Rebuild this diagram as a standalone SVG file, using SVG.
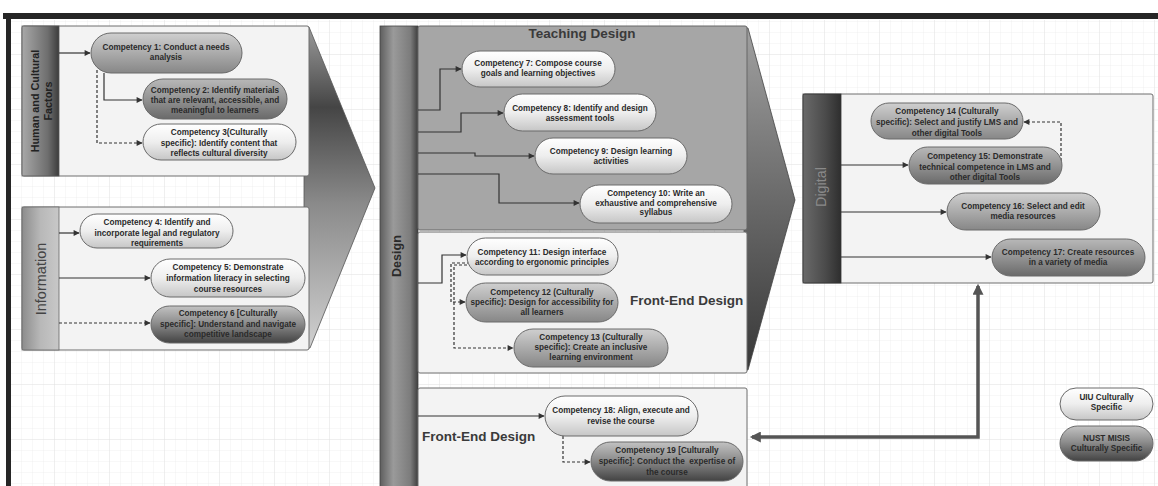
<svg xmlns="http://www.w3.org/2000/svg" width="1158" height="486" viewBox="0 0 1158 486">
<defs>
<pattern id="gridMinor" width="11" height="11" patternUnits="userSpaceOnUse">
<path d="M11 0 V11 M0 11 H11" fill="none" stroke="#ececec" stroke-width="0.7"/>
</pattern>
<pattern id="gridMajor" width="55" height="55" patternUnits="userSpaceOnUse">
<rect width="55" height="55" fill="url(#gridMinor)"/>
<path d="M55 0 V55 M0 55 H55" fill="none" stroke="#e0e0e0" stroke-width="0.8"/>
</pattern>
<linearGradient id="gLight" x1="0" y1="0" x2="0" y2="1"><stop offset="0" stop-color="#ffffff"/><stop offset="0.5" stop-color="#eeeeee"/><stop offset="1" stop-color="#c6c6c6"/></linearGradient>
<linearGradient id="gMid" x1="0" y1="0" x2="0" y2="1"><stop offset="0" stop-color="#cfcfcf"/><stop offset="0.5" stop-color="#ababab"/><stop offset="1" stop-color="#878787"/></linearGradient>
<linearGradient id="gMDark" x1="0" y1="0" x2="0" y2="1"><stop offset="0" stop-color="#b8b8b8"/><stop offset="0.5" stop-color="#939393"/><stop offset="1" stop-color="#6a6a6a"/></linearGradient>
<linearGradient id="gDark" x1="0" y1="0" x2="0" y2="1"><stop offset="0" stop-color="#c2c2c2"/><stop offset="0.45" stop-color="#8e8e8e"/><stop offset="1" stop-color="#434343"/></linearGradient>
<linearGradient id="gBarHuman" x1="0" y1="0" x2="1" y2="0"><stop offset="0" stop-color="#a8a8a8"/><stop offset="0.7" stop-color="#6e6e6e"/><stop offset="1" stop-color="#3c3c3c"/></linearGradient>
<linearGradient id="gBarInfo" x1="0" y1="0" x2="1" y2="0"><stop offset="0" stop-color="#8c8c8c"/><stop offset="0.5" stop-color="#b8b8b8"/><stop offset="1" stop-color="#c8c8c8"/></linearGradient>
<linearGradient id="gBarDesign" x1="0" y1="0" x2="1" y2="0"><stop offset="0" stop-color="#5e5e5e"/><stop offset="0.35" stop-color="#9a9a9a"/><stop offset="0.8" stop-color="#7c7c7c"/><stop offset="1" stop-color="#3e3e3e"/></linearGradient>
<linearGradient id="gBarDigital" x1="0" y1="0" x2="1" y2="0"><stop offset="0" stop-color="#6a6a6a"/><stop offset="0.6" stop-color="#4a4a4a"/><stop offset="1" stop-color="#2e2e2e"/></linearGradient>
<linearGradient id="gChevL" x1="0" y1="0" x2="0" y2="1"><stop offset="0" stop-color="#9a9a9a"/><stop offset="0.25" stop-color="#454545"/><stop offset="0.55" stop-color="#8a8a8a"/><stop offset="1" stop-color="#d0d0d0"/></linearGradient>
<linearGradient id="gChevR" x1="0" y1="0" x2="0" y2="1"><stop offset="0" stop-color="#a0a0a0"/><stop offset="0.5" stop-color="#6a6a6a"/><stop offset="1" stop-color="#383838"/></linearGradient>
<marker id="arr" viewBox="0 0 10 10" refX="9" refY="5" markerWidth="7" markerHeight="6" markerUnits="userSpaceOnUse" orient="auto"><path d="M0 0 L10 5 L0 10 z" fill="#333"/></marker>
<marker id="arrBig" viewBox="0 0 10 10" refX="8" refY="5" markerWidth="14" markerHeight="11" markerUnits="userSpaceOnUse" orient="auto-start-reverse"><path d="M0 0 L10 5 L0 10 z" fill="#555"/></marker>
<style>
.box{fill:#f3f3f3;stroke:#6e6e6e;stroke-width:1}
.pill{stroke:#6a6a6a;stroke-width:1}
.light{fill:url(#gLight)}
.mid{fill:url(#gMid)}
.mdark{fill:url(#gMDark)}
.dark{fill:url(#gDark)}
.t{font-family:"Liberation Sans",Arial,sans-serif;font-size:8.2px;font-weight:bold;fill:#2a2a2a;text-anchor:middle}
.head{font-family:"Liberation Sans",Arial,sans-serif;font-size:13.5px;font-weight:bold;fill:#3a3a3a}
.side{font-family:"Liberation Sans",Arial,sans-serif;text-anchor:middle}
.c{fill:none;stroke:#333;stroke-width:1.2;marker-end:url(#arr)}
.d{stroke-dasharray:3 2}
</style>
</defs>

<rect x="0" y="0" width="1158" height="486" fill="#ffffff"/>
<rect x="11" y="20" width="1147" height="466" fill="url(#gridMajor)"/>
<rect x="3" y="13" width="1155" height="6" fill="#262626"/>
<rect x="6" y="13" width="5" height="473" fill="#262626"/>

<!-- chevrons -->
<polygon id="chevron-left" points="304,27 309,27 375,188 310,348 304,348" fill="url(#gChevL)" stroke="#555" stroke-width="0.8"/>
<polygon id="chevron-right" points="744,28 748,28 795,200 748,370 744,370" fill="url(#gChevR)" stroke="#444" stroke-width="0.8"/>

<!-- Human and Cultural Factors -->
<g id="human-cultural">
<rect class="box" x="22" y="26" width="287" height="150" rx="2"/>
<rect x="22" y="26" width="37" height="150" fill="url(#gBarHuman)" stroke="#555" stroke-width="0.8"/>
<text class="side" transform="translate(39,101) rotate(-90)" font-size="10.8" font-weight="bold" fill="#222">Human and Cultural</text>
<text class="side" transform="translate(52,101) rotate(-90)" font-size="10.8" font-weight="bold" fill="#222">Factors</text>
</g>

<!-- Information -->
<g id="information">
<rect class="box" x="22" y="207" width="287" height="143" rx="2"/>
<rect x="22" y="207" width="37" height="143" fill="url(#gBarInfo)" stroke="#666" stroke-width="0.8"/>
<text class="side" transform="translate(46,279) rotate(-90)" font-size="14.5" fill="#444">Information</text>
</g>

<!-- Design column -->
<g id="design">
<rect x="380" y="26" width="38" height="462" fill="url(#gBarDesign)" stroke="#444" stroke-width="0.8"/>
<text class="side" transform="translate(401,256) rotate(-90)" font-size="12.6" font-weight="bold" fill="#2a2a2a">Design</text>
</g>

<g id="teaching-design">
<rect x="418" y="26" width="329" height="204" rx="2" fill="#a6a6a6" stroke="#666" stroke-width="1"/>
<text class="head" x="582" y="38" text-anchor="middle">Teaching Design</text>
</g>

<g id="front-end-design-1">
<rect class="box" x="418" y="232" width="329" height="141" rx="2"/>
<text class="head" x="630" y="305">Front-End Design</text>
</g>

<g id="front-end-design-2">
<rect class="box" x="418" y="388" width="329" height="102" rx="2"/>
<text class="head" x="422" y="441">Front-End Design</text>
</g>

<!-- Digital -->
<g id="digital">
<rect class="box" x="803" y="94" width="350" height="189" rx="2"/>
<rect x="803" y="94" width="38" height="189" fill="url(#gBarDigital)" stroke="#333" stroke-width="0.8"/>
<text class="side" transform="translate(826,187) rotate(-90)" font-size="14.4" fill="#8a8a8a">Digital</text>
</g>

<!-- connectors -->
<g id="connectors">
<path class="c" d="M59,53 H90"/>
<path class="c" d="M104,73 V100 H142"/>
<path class="c d" d="M97,70 V143 H142"/>
<path class="c" d="M59,233 H79"/>
<path class="c" d="M59,278 H150"/>
<path class="c d" d="M59,323 H150"/>
<path class="c" d="M418,110 H440 V69 H461"/>
<path class="c" d="M418,132 H461 V113 H503"/>
<path class="c" d="M418,153 H475 V156 H534"/>
<path class="c" d="M418,174 H499 V203 H579"/>
<path class="c" d="M418,283 H442 V255 H466"/>
<path class="c d" d="M470,263 H451 V302 H465"/>
<path class="c d" d="M472,265 H454 V348 H513"/>
<path class="c" d="M418,416 H544"/>
<path class="c d" d="M563,436 V462 H590"/>
<path class="c" d="M841,165 H908"/>
<path class="c" d="M841,212 H946"/>
<path class="c" d="M841,257 H991"/>
<path class="c d" d="M1061,161 V122 H1024"/>
<path d="M752,437 H978 V286" fill="none" stroke="#555" stroke-width="3.5" marker-start="url(#arrBig)" marker-end="url(#arrBig)"/>
</g>

<!-- competencies -->
<g id="c1"><rect class="pill mid" x="91" y="33" width="151" height="40" rx="20"/>
<text class="t"><tspan x="166" y="50">Competency 1: Conduct a needs</tspan><tspan x="166" y="60">analysis</tspan></text></g>
<g id="c2"><rect class="pill mdark" x="143" y="79" width="144" height="40" rx="20"/>
<text class="t"><tspan x="215" y="93">Competency 2: Identify materials</tspan><tspan x="215" y="103">that are relevant, accessible, and</tspan><tspan x="215" y="113">meaningful to learners</tspan></text></g>
<g id="c3"><rect class="pill light" x="143" y="124" width="153" height="36" rx="18"/>
<text class="t"><tspan x="219" y="135">Competency 3(Culturally</tspan><tspan x="219" y="145.5">specific): Identify content that</tspan><tspan x="219" y="156">reflects cultural diversity</tspan></text></g>

<g id="c4"><rect class="pill light" x="80" y="214" width="153" height="34" rx="17"/>
<text class="t"><tspan x="157" y="225">Competency 4: Identify and</tspan><tspan x="157" y="235.5">incorporate legal and regulatory</tspan><tspan x="157" y="246">requirements</tspan></text></g>
<g id="c5"><rect class="pill light" x="151" y="259" width="154" height="38" rx="19"/>
<text class="t"><tspan x="228" y="270">Competency 5: Demonstrate</tspan><tspan x="228" y="281">information literacy in selecting</tspan><tspan x="228" y="291.5">course resources</tspan></text></g>
<g id="c6"><rect class="pill dark" x="151" y="306" width="154" height="37" rx="18.5"/>
<text class="t"><tspan x="228" y="316">Competency 6 [Culturally</tspan><tspan x="228" y="326.5">specific]: Understand and navigate</tspan><tspan x="228" y="336.5">competitive landscape</tspan></text></g>

<g id="c7"><rect class="pill light" x="462" y="51" width="153" height="36" rx="18"/>
<text class="t"><tspan x="538" y="66">Competency 7: Compose course</tspan><tspan x="538" y="76">goals and learning objectives</tspan></text></g>
<g id="c8"><rect class="pill light" x="504" y="94" width="152" height="37" rx="18.5"/>
<text class="t"><tspan x="580" y="111">Competency 8: Identify and design</tspan><tspan x="580" y="121">assessment tools</tspan></text></g>
<g id="c9"><rect class="pill light" x="535" y="138" width="152" height="36" rx="18"/>
<text class="t"><tspan x="611" y="154">Competency 9: Design learning</tspan><tspan x="611" y="164">activities</tspan></text></g>
<g id="c10"><rect class="pill light" x="580" y="185" width="152" height="38" rx="19"/>
<text class="t"><tspan x="656" y="196">Competency 10: Write an</tspan><tspan x="656" y="205.5">exhaustive and comprehensive</tspan><tspan x="656" y="215">syllabus</tspan></text></g>

<g id="c11"><rect class="pill light" x="467" y="238" width="151" height="37" rx="18.5"/>
<text class="t"><tspan x="542" y="255">Competency 11: Design interface</tspan><tspan x="542" y="264.5">according to ergonomic principles</tspan></text></g>
<g id="c12"><rect class="pill mid" x="466" y="283" width="152" height="39" rx="19.5"/>
<text class="t"><tspan x="542" y="295">Competency 12 (Culturally</tspan><tspan x="542" y="305">specific): Design for accessibility for</tspan><tspan x="542" y="314.5">all learners</tspan></text></g>
<g id="c13"><rect class="pill mid" x="514" y="329" width="154" height="38" rx="19"/>
<text class="t"><tspan x="591" y="340">Competency 13 (Culturally</tspan><tspan x="591" y="350">specific): Create an inclusive</tspan><tspan x="591" y="360">learning environment</tspan></text></g>

<g id="c18"><rect class="pill light" x="545" y="396" width="153" height="40" rx="20"/>
<text class="t"><tspan x="621" y="413">Competency 18: Align, execute and</tspan><tspan x="621" y="424">revise the course</tspan></text></g>
<g id="c19"><rect class="pill dark" x="591" y="442" width="152" height="39" rx="19.5"/>
<text class="t"><tspan x="667" y="453">Competency 19 [Culturally</tspan><tspan x="667" y="464">specific]: Conduct the&#160; expertise of</tspan><tspan x="667" y="475">the course</tspan></text></g>

<g id="c14"><rect class="pill mid" x="871" y="103" width="152" height="36" rx="18"/>
<text class="t"><tspan x="947" y="114">Competency 14 (Culturally</tspan><tspan x="947" y="125">specific): Select and justify LMS and</tspan><tspan x="947" y="136">other digital Tools</tspan></text></g>
<g id="c15"><rect class="pill mdark" x="909" y="147" width="153" height="37" rx="18.5"/>
<text class="t"><tspan x="985" y="159">Competency 15: Demonstrate</tspan><tspan x="985" y="170">technical competence in LMS and</tspan><tspan x="985" y="180">other digital Tools</tspan></text></g>
<g id="c16"><rect class="pill mid" x="947" y="193" width="153" height="37" rx="18.5"/>
<text class="t"><tspan x="1023" y="209">Competency 16: Select and edit</tspan><tspan x="1023" y="219">media resources</tspan></text></g>
<g id="c17"><rect class="pill mdark" x="992" y="239" width="153" height="37" rx="18.5"/>
<text class="t"><tspan x="1068" y="255">Competency 17: Create resources</tspan><tspan x="1068" y="265">in a variety of media</tspan></text></g>

<!-- legend -->
<g id="legend-uiu"><rect class="pill light" x="1060" y="388" width="93" height="32" rx="16"/>
<text class="t"><tspan x="1106.5" y="400">UIU Culturally</tspan><tspan x="1106.5" y="410">Specific</tspan></text></g>
<g id="legend-nust"><rect class="pill dark" x="1060" y="426" width="93" height="35" rx="17.5"/>
<text class="t"><tspan x="1106.5" y="441">NUST MISIS</tspan><tspan x="1106.5" y="451">Culturally Specific</tspan></text></g>
</svg>
